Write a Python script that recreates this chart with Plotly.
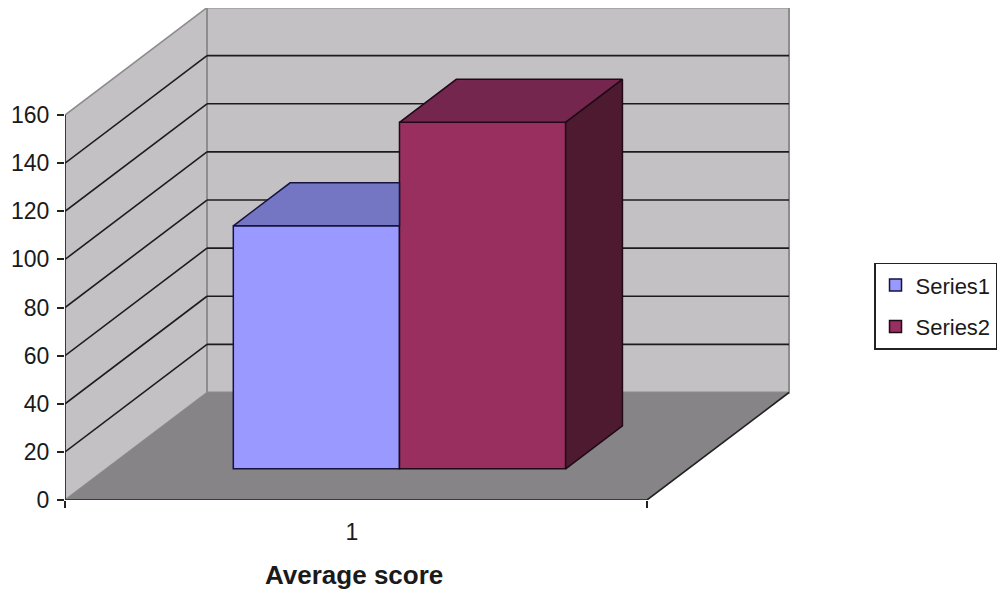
import plotly.graph_objects as go

categories = ["1"]
series1 = [101]
series2 = [144]
y_ticks = [0, 20, 40, 60, 80, 100, 120, 140, 160]
x_title = "Average score"

FONT = "Liberation Sans"
PX_Y = 2.406           # pixels per value unit
PX_X = 582             # pixels per category unit
DX, DY = 142 / PX_X, 107.5 / PX_Y   # oblique offset of full depth, in axis units
GAP = 0.2892           # gap beside the bars, in category widths
BAR_W = 0.2855
D0, D1 = 0.29, 0.69    # depth span of the bars


def P(x, y, d=0.0):
    return x + d * DX, y + d * DY


def path(pts):
    return "M " + " L ".join(f"{a},{b}" for a, b in pts) + " Z"


def poly(pts, color, line="#1a1020"):
    xs = [p[0] for p in pts] + [pts[0][0]]
    ys = [p[1] for p in pts] + [pts[0][1]]
    return go.Scatter(x=xs, y=ys, mode="lines", fill="toself", fillcolor=color,
                      line=dict(color=line, width=1.5), showlegend=False, hoverinfo="skip")


top = y_ticks[-1]
shapes = []
WALL, FLOOR, EDGE = "#C3C1C4", "#868486", "#8E8C8E"
# side wall, back wall, floor
shapes.append(dict(type="path", path=path([P(0, 0), P(0, top), P(0, top, 1), P(0, 0, 1)]),
                   fillcolor=WALL, line=dict(color=EDGE, width=1.5), layer="below"))
shapes.append(dict(type="path", path=path([P(0, 0, 1), P(0, top, 1), P(1, top, 1), P(1, 0, 1)]),
                   fillcolor=WALL, line=dict(color=EDGE, width=2), layer="below"))
shapes.append(dict(type="path", path=path([P(0, 0), P(0, 0, 1), P(1, 0, 1), P(1, 0)]),
                   fillcolor=FLOOR, line=dict(width=0), layer="below"))
# gridlines on both walls
for v in y_ticks[1:-1]:
    for a, b in ((P(0, v), P(0, v, 1)), (P(0, v, 1), P(1, v, 1))):
        shapes.append(dict(type="line", x0=a[0], y0=a[1], x1=b[0], y1=b[1],
                           line=dict(color="#1c1c1c", width=1.6), layer="below"))
# floor right edge and axis lines
for a, b in ((P(1, 0), P(1, 0, 1)), (P(0, 0), P(1, 0)), (P(0, 0), P(0, top))):
    shapes.append(dict(type="line", x0=a[0], y0=a[1], x1=b[0], y1=b[1],
                       line=dict(color="#222222", width=1.6), layer="below"))

base = P(0, 0, D0)[1]
dd = D1 - D0
bx = GAP
bx2 = GAP + BAR_W
bx3 = GAP + 2 * BAR_W
sx, sy = dd * DX, dd * DY

traces = [
    go.Bar(x=[(bx + bx2) / 2], y=series1, base=base, width=BAR_W, name="Series1",
           marker=dict(color="#9999FF", line=dict(color="#14143c", width=1.5)),
           legendgroup="a", hoverinfo="skip"),
    go.Bar(x=[(bx2 + bx3) / 2], y=series2, base=base, width=BAR_W, name="Series2",
           marker=dict(color="#992F5F", line=dict(color="#200a18", width=1.5)),
           legendgroup="b", hoverinfo="skip"),
]
t1 = base + series1[0]
t2 = base + series2[0]
# Series1 top face, cut where the Series2 bar hides it
traces.append(poly([(bx, t1), (bx2, t1), (bx2, t1 + sy), (bx + sx, t1 + sy)], "#7476C4", "#14143c"))
# Series2 top and side faces
traces.append(poly([(bx2, t2), (bx3, t2), (bx3 + sx, t2 + sy), (bx2 + sx, t2 + sy)], "#74264F", "#200a18"))
traces.append(poly([(bx3, base), (bx3, t2), (bx3 + sx, t2 + sy), (bx3 + sx, base + sy)], "#4D1A30", "#200a18"))

fig = go.Figure(traces)
fig.update_layout(
    width=997, height=587, autosize=False,
    margin=dict(l=57, r=205, t=0, b=95),
    paper_bgcolor="#FFFFFF", plot_bgcolor="rgba(0,0,0,0)",
    barmode="overlay", shapes=shapes,
    font=dict(family=FONT, size=23, color="#1a1a1a"),
    xaxis=dict(range=[0, 735 / PX_X], tickmode="array", tickvals=[0.493], ticktext=categories,
               ticks="outside", ticklen=11, tickcolor="rgba(0,0,0,0)", showgrid=False,
               zeroline=False, showline=False, tickfont=dict(size=23, family=FONT),
               minor=dict(tickmode="array", tickvals=[0, 1], ticks="outside", ticklen=7,
                          tickcolor="#222222", tickwidth=1.6, showgrid=False)),
    yaxis=dict(range=[0, 492 / PX_Y], tickmode="array", tickvals=y_ticks,
               ticks="outside", ticklen=7, tickcolor="#222222", tickwidth=1.6,
               ticklabelstandoff=3, showgrid=False, zeroline=False, showline=False,
               tickfont=dict(size=23, family=FONT)),
    legend=dict(x=1.1007, xanchor="left", y=0.394, yanchor="middle",
                bgcolor="#FFFFFF", bordercolor="#222222", borderwidth=1.5,
                font=dict(size=22, family=FONT), tracegroupgap=10),
    annotations=[dict(text=f"<b>{x_title}</b>", x=0.497, xref="x", xanchor="center",
                      y=-0.152, yref="paper", yanchor="middle", showarrow=False,
                      font=dict(size=26, family=FONT, color="#1a1a1a"))],
)
fig.write_html("out.html")
